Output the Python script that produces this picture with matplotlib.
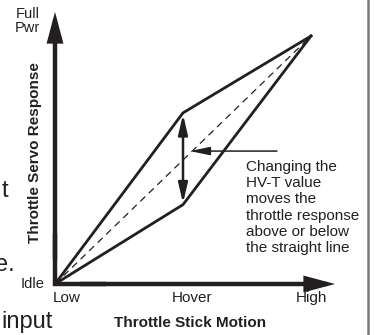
import matplotlib
matplotlib.use("Agg")
import matplotlib.pyplot as plt
from matplotlib.lines import Line2D

plt.rcParams['font.family'] = ['Liberation Sans', 'DejaVu Sans']

# Throttle stick positions and servo response (0 = low/idle, 1 = high/full)
stick = [0.0, 0.5, 1.0]
straight = [0.0, 0.5, 1.0]
curve_up = [0.0, 0.69, 1.0]
curve_down = [0.0, 0.32, 1.0]
stick_labels = ['Low', 'Hover', 'High']
power_labels = ['Idle', 'Full\nPwr']
note = 'Changing the\nHV-T value\nmoves the\nthrottle response\nabove or below\nthe straight line'

ink = '#231f20'

fig = plt.figure(figsize=(3.75, 3.35), dpi=100)
fig.patch.set_facecolor('white')
ax = fig.add_axes([55 / 375, 51 / 335, 256 / 375, 248 / 335])
ax.set_xlim(0, 1)
ax.set_ylim(0, 1)
ax.axis('off')

# axes with arrow heads
ax.plot([0, 0, 0.2], [0.2, 0, 0], color=ink, lw=3.2, solid_joinstyle='miter',
        solid_capstyle='butt', clip_on=False)
ax.annotate('', xy=(0, 1.097), xytext=(0, 0.1),
            arrowprops=dict(arrowstyle='-|>,head_length=0.75,head_width=0.2', color=ink,
                            lw=3.2, mutation_scale=20, shrinkA=0, shrinkB=0,
                            joinstyle='miter'), annotation_clip=False)
ax.annotate('', xy=(1.094, 0), xytext=(0.1, 0),
            arrowprops=dict(arrowstyle='-|>,head_length=0.75,head_width=0.2', color=ink,
                            lw=3.2, mutation_scale=20, shrinkA=0, shrinkB=0,
                            joinstyle='miter'), annotation_clip=False)

# response curves
ax.plot(stick, straight, color=ink, lw=0.9, linestyle=(0, (5.5, 4)), clip_on=False)
ax.plot(stick, curve_up, color=ink, lw=2.0, solid_joinstyle='miter', clip_on=False)
ax.plot(stick, curve_down, color=ink, lw=2.0, solid_joinstyle='miter', clip_on=False)

# double arrow between the two hover points
ax.annotate('', xy=(stick[1], curve_up[1]), xytext=(stick[1], curve_down[1]),
            arrowprops=dict(arrowstyle='<|-|>,head_length=1.2,head_width=0.28', color=ink,
                            lw=1.8, mutation_scale=10, shrinkA=1, shrinkB=1))

# pointer from the note to the double arrow
ax.annotate('', xy=(0.527, 0.536), xytext=(0.867, 0.536),
            arrowprops=dict(arrowstyle='-|>,head_length=1.2,head_width=0.25', color=ink,
                            lw=1.1, mutation_scale=10, shrinkA=0, shrinkB=0))
ax.text(0.746, 0.50, note, fontsize=11, color=ink, ha='left', va='top',
        linespacing=1.2)

# tick labels
ax.text(stick[0] - 0.008, -0.056, stick_labels[0], fontsize=11, color=ink,
        ha='left', va='center')
ax.text(stick[1] + 0.035, -0.056, stick_labels[1], fontsize=11, color=ink,
        ha='center', va='center')
ax.text(stick[2], -0.056, stick_labels[2], fontsize=11, color=ink,
        ha='center', va='center')
ax.text(-0.04, 0.0, power_labels[0], fontsize=10.5, color=ink, ha='right', va='center')
ax.text(-0.059, 1.06, power_labels[1], fontsize=10.5, color=ink, ha='right', va='center',
        linespacing=1.05)

# axis titles
ax.text(0.527, -0.157, 'Throttle Stick Motion', fontsize=11, fontweight='bold',
        color=ink, ha='center', va='center')
ax.text(-0.078, 0.532, 'Throttle Servo Response', fontsize=11, fontweight='bold',
        color=ink, ha='center', va='center', rotation=90)

# surrounding page text and column rule
fig.text(8 / 375, 1 - 197 / 335, 't', fontsize=17, color=ink, ha='right', va='baseline')
fig.text(15 / 375, 1 - 271 / 335, 'e.', fontsize=17, color=ink, ha='right', va='baseline')
fig.text(1 / 375, 1 - 328 / 335, 'input', fontsize=17, color=ink, ha='left', va='baseline')
fig.add_artist(Line2D([368 / 375, 368 / 375], [0, 1], color='#7a7a7a', lw=1.8))

fig.savefig('out.png', dpi=100, facecolor='white')
